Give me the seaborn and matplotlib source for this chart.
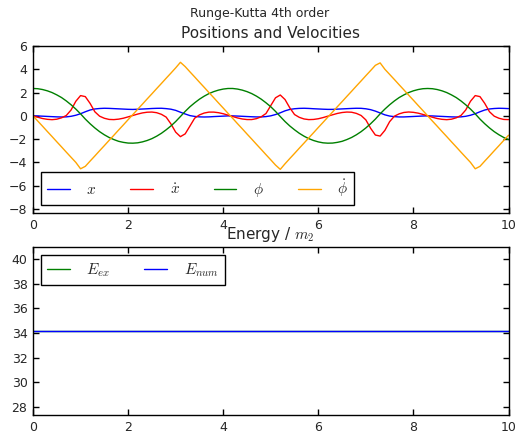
import numpy as np
import matplotlib
matplotlib.use("Agg")
import matplotlib.pyplot as plt
import seaborn as sns

# time grid (0 .. 10, step 0.1)
t = np.linspace(0, 10, 101)

# values, one per time step
x_pos = [0.0, -0.01, -0.03, -0.05, -0.07, -0.09, -0.10, -0.09, -0.04, 0.05, 0.18,
         0.35, 0.50, 0.59, 0.63, 0.65, 0.64, 0.62, 0.60, 0.58, 0.56,
         0.55, 0.565, 0.585, 0.605, 0.63, 0.645, 0.65, 0.62, 0.57, 0.47,
         0.31, 0.16, 0.02, -0.05, -0.09, -0.10, -0.09, -0.065, -0.045, -0.025, -0.005,
         -0.005, -0.02, -0.04, -0.06, -0.08, -0.095, -0.095, -0.065, 0.0, 0.11,
         0.26, 0.43, 0.55, 0.61, 0.64, 0.65, 0.635, 0.61, 0.59, 0.57, 0.555,
         0.555, 0.575, 0.595, 0.615, 0.635, 0.65, 0.645, 0.605, 0.53, 0.405,
         0.245, 0.085, -0.02, -0.07, -0.095, -0.095, -0.075, -0.055, -0.035, -0.015,
         0.0, -0.01, -0.03, -0.05, -0.07, -0.09, -0.10, -0.09, -0.04, 0.05,
         0.18, 0.35, 0.50, 0.59, 0.63, 0.65, 0.64, 0.62]

x_vel = [0.0, -0.12, -0.23, -0.30, -0.33, -0.29, -0.17, 0.03, 0.50, 1.25, 1.74,
         1.65, 1.07, 0.35, -0.03, -0.21, -0.31, -0.325, -0.285, -0.205, -0.09,
         0.03, 0.15, 0.25, 0.31, 0.325, 0.27, 0.13, -0.11, -0.69, -1.40,
         -1.79, -1.55, -0.88, -0.20, 0.08, 0.24, 0.32, 0.32, 0.27, 0.18, 0.06,
         -0.06, -0.18, -0.27, -0.32, -0.32, -0.24, -0.08, 0.20, 0.88, 1.55,
         1.79, 1.40, 0.69, 0.11, -0.13, -0.27, -0.325, -0.31, -0.25, -0.15, -0.03,
         0.09, 0.205, 0.285, 0.325, 0.31, 0.21, 0.03, -0.35, -1.07, -1.65,
         -1.74, -1.25, -0.50, -0.03, 0.17, 0.29, 0.33, 0.30, 0.23, 0.12,
         0.0, -0.12, -0.23, -0.30, -0.33, -0.29, -0.17, 0.03, 0.50, 1.25,
         1.74, 1.65, 1.07, 0.35, -0.03, -0.21, -0.31, -0.325]

phi = [2.35, 2.33, 2.26, 2.15, 2.00, 1.80, 1.57, 1.28, 0.95, 0.58, 0.17,
       -0.28, -0.68, -1.04, -1.36, -1.63, -1.86, -2.04, -2.19, -2.28, -2.34,
       -2.35, -2.32, -2.24, -2.12, -1.96, -1.75, -1.50, -1.20, -0.87, -0.49,
       -0.06, 0.38, 0.78, 1.12, 1.43, 1.69, 1.91, 2.08, 2.21, 2.30, 2.35,
       2.35, 2.30, 2.21, 2.08, 1.91, 1.69, 1.43, 1.12, 0.78, 0.38,
       -0.06, -0.49, -0.87, -1.20, -1.50, -1.75, -1.96, -2.12, -2.24, -2.32, -2.35,
       -2.34, -2.28, -2.19, -2.04, -1.86, -1.63, -1.36, -1.04, -0.68, -0.28,
       0.17, 0.58, 0.95, 1.28, 1.57, 1.80, 2.00, 2.15, 2.26, 2.33,
       2.35, 2.33, 2.26, 2.15, 2.00, 1.80, 1.57, 1.28, 0.95, 0.58,
       0.17, -0.28, -0.68, -1.04, -1.36, -1.63, -1.86, -2.04]

phi_vel = [0.0, -0.45, -0.89, -1.34, -1.78, -2.23, -2.67, -3.12, -3.56, -4.00, -4.55,
           -4.34, -3.89, -3.45, -3.00, -2.56, -2.11, -1.67, -1.22, -0.78, -0.33,
           0.11, 0.56, 1.00, 1.45, 1.89, 2.34, 2.78, 3.23, 3.67, 4.12,
           4.60, 4.23, 3.78, 3.34, 2.89, 2.45, 2.00, 1.56, 1.11, 0.67, 0.22,
           -0.22, -0.67, -1.11, -1.56, -2.00, -2.45, -2.89, -3.34, -3.78, -4.23,
           -4.60, -4.12, -3.67, -3.23, -2.78, -2.34, -1.89, -1.45, -1.00, -0.56, -0.11,
           0.33, 0.78, 1.22, 1.67, 2.11, 2.56, 3.00, 3.45, 3.89, 4.34,
           4.55, 4.00, 3.56, 3.12, 2.67, 2.23, 1.78, 1.34, 0.89, 0.45,
           0.0, -0.45, -0.89, -1.34, -1.78, -2.23, -2.67, -3.12, -3.56, -4.00,
           -4.55, -4.34, -3.89, -3.45, -3.00, -2.56, -2.11, -1.67]

energy = 34.15
E_ex = [energy] * len(t)
E_num = [energy] * len(t)

sns.set_style("ticks", {"xtick.direction": "in", "ytick.direction": "in",
                        "axes.edgecolor": "black"})
plt.rcParams["font.family"] = "DejaVu Sans"
plt.rcParams["mathtext.fontset"] = "cm"
plt.rcParams["font.size"] = 9

fig = plt.figure(figsize=(5.2, 4.34), dpi=100)
ax1 = fig.add_axes([0.0635, 0.5092, 0.9144, 0.3848])
ax2 = fig.add_axes([0.0635, 0.0438, 0.9144, 0.3864])

lw = 1.0
sns.lineplot(x=t, y=x_pos, ax=ax1, color="b", lw=lw, label=r"$x$")
sns.lineplot(x=t, y=x_vel, ax=ax1, color="r", lw=lw, label=r"$\dot{x}$")
sns.lineplot(x=t, y=phi, ax=ax1, color="g", lw=lw, label=r"$\phi$")
sns.lineplot(x=t, y=phi_vel, ax=ax1, color="orange", lw=lw, label=r"$\dot{\phi}$")
ax1.set_xlim(0, 10)
ax1.set_ylim(-8.35, 6)
ax1.set_yticks([-8, -6, -4, -2, 0, 2, 4, 6])
ax1.set_title("Positions and Velocities", fontsize=11)

sns.lineplot(x=t, y=E_ex, ax=ax2, color="g", lw=lw, label=r"$E_{ex}$")
sns.lineplot(x=t, y=E_num, ax=ax2, color="b", lw=lw, label=r"$E_{num}$")
ax2.set_xlim(0, 10)
ax2.set_ylim(0.8 * energy, 1.2 * energy)
ax2.set_yticks([28, 30, 32, 34, 36, 38, 40])
ax2.set_title(r"Energy / $m_2$", fontsize=11)

for ax in (ax1, ax2):
    ax.set_xticks([0, 2, 4, 6, 8, 10])
    ax.tick_params(direction="in", top=True, right=True, length=4, width=1,
                   labelsize=9, color="black", pad=4)
    for s in ax.spines.values():
        s.set_linewidth(1)
        s.set_color("black")

leg_kw = dict(fontsize=11, handlelength=1.5, handletextpad=1.1, columnspacing=2.2,
              fancybox=False, edgecolor="black", framealpha=1, borderaxespad=0.5)
l1 = ax1.legend(loc="lower left", ncol=4, **leg_kw)
l2 = ax2.legend(loc="upper left", ncol=2, **leg_kw)
for lg in (l1, l2):
    lg.get_frame().set_linewidth(1)

fig.suptitle("Runge-Kutta 4th order", fontsize=9, y=0.968, va="center")

fig.savefig("out.png", dpi=100)
